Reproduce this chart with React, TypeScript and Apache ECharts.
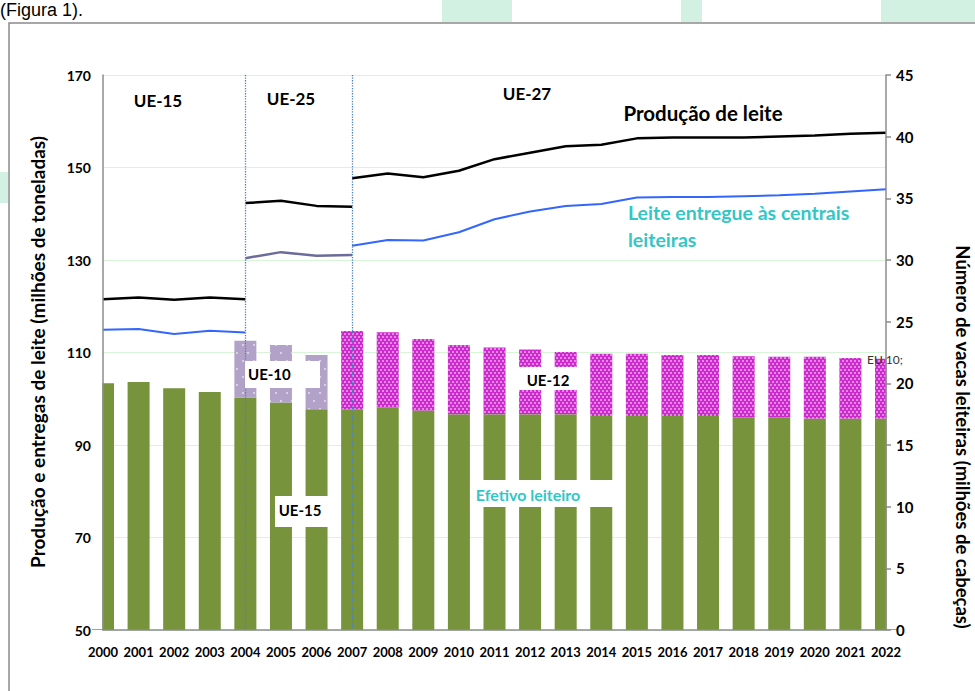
import React, { useEffect, useRef } from 'react';
import * as echarts from 'echarts';

const years = [
  '2000', '2001', '2002', '2003', '2004', '2005', '2006', '2007', '2008', '2009', '2010', '2011',
  '2012', '2013', '2014', '2015', '2016', '2017', '2018', '2019', '2020', '2021', '2022',
];

// Milk production (million tonnes), left axis
const prodUE15 = [121.5, 121.9, 121.4, 121.9, 121.5]; // 2000-2004
const prodUE25 = [142.3, 142.8, 141.7, 141.5]; // 2004-2007
const prodUE27 = [147.7, 148.7, 147.9, 149.3, 151.8, 153.2, 154.6, 154.9, 156.3, 156.5, 156.5, 156.5, 156.7, 156.9, 157.3, 157.5]; // 2007-2022

// Milk delivered to dairies (million tonnes), left axis
const delivUE15 = [114.9, 115.1, 114.0, 114.7, 114.3]; // 2000-2004
const delivUE25 = [130.4, 131.7, 130.9, 131.1]; // 2004-2007
const delivUE27 = [133.1, 134.3, 134.2, 136.0, 138.8, 140.5, 141.7, 142.1, 143.5, 143.6, 143.6, 143.8, 144.0, 144.3, 144.8, 145.3]; // 2007-2022

// Dairy cows (million head), right axis
const cowsUE15 = [20.0, 20.1, 19.6, 19.3, 18.85, 18.45, 17.9, 17.9, 18.05, 17.8, 17.5, 17.5, 17.5, 17.5, 17.35, 17.35, 17.35, 17.35, 17.25, 17.25, 17.15, 17.15, 17.15];
const cowsUE10 = [4.6, 4.65, 4.4]; // 2004-2006
const cowsUE12 = [6.35, 6.1, 5.8, 5.6, 5.4, 5.25, 5.05, 5.05, 5.05, 4.95, 4.95, 4.95, 4.9, 5.0, 4.9, 4.85]; // 2007-2022

// Left axis tick labels
const leftTicks = [50, 70, 90, 110, 130, 150, 170];

const FONT = 'Lato, "Noto Sans", sans-serif';

const W = 975;
const H = 691;
const GRID = { left: 103, right: 89, top: 75, bottom: 61 };

function pad(vals: number[], start: number): (number | string)[] {
  return years.map((_, i) => (i >= start && i < start + vals.length ? vals[i - start] : '-'));
}

export default function App() {
  const ref = useRef<HTMLDivElement>(null);

  useEffect(() => {
    if (!ref.current) return;
    const chart = echarts.init(ref.current, null, { renderer: 'svg' });
    const leftMin = leftTicks[0];
    const leftMax = leftTicks[leftTicks.length - 1];
    const leftStep = leftTicks[1] - leftTicks[0];
    const gx0 = GRID.left;
    const gx1 = W - GRID.right;
    const gy0 = GRID.top;
    const gy1 = H - GRID.bottom;

    const lineBase = {
      type: 'line',
      yAxisIndex: 0,
      symbol: 'none',
      z: 4,
      silent: true,
    };

    const barBase = {
      type: 'bar',
      stack: 'cows',
      yAxisIndex: 1,
      barWidth: 22,
      clip: true,
      z: 2,
      silent: true,
    };

    const option: any = {
      animation: false,
      backgroundColor: '#ffffff',
      grid: { ...GRID, containLabel: false },
      xAxis: {
        type: 'category',
        data: years,
        boundaryGap: false,
        z: 5,
        axisLine: { show: true, lineStyle: { color: '#8c8c8c', width: 1.5 } },
        axisTick: { show: false },
        axisLabel: { interval: 0, fontFamily: FONT, fontWeight: 'bold', fontSize: 13, color: '#000', margin: 15 },
        splitLine: { show: false },
      },
      yAxis: [
        {
          type: 'value',
          show: false,
          min: leftMin,
          max: leftMax,
        },
        {
          type: 'value',
          position: 'right',
          min: 0,
          max: 45,
          interval: 5,
          z: 5,
          axisLine: { show: true, lineStyle: { color: '#8c8c8c', width: 1.5 } },
          axisTick: { show: true, inside: false, length: 5, lineStyle: { color: '#8c8c8c', width: 1.5 } },
          axisLabel: { fontFamily: FONT, fontWeight: 'bold', fontSize: 15, color: '#000', margin: 10 },
          splitLine: { show: false },
        },
        {
          type: 'value',
          position: 'left',
          min: 0,
          max: leftMax - leftMin,
          interval: leftStep,
          z: 0,
          axisLine: { show: false },
          axisTick: { show: false },
          axisLabel: {
            fontFamily: FONT, fontWeight: 'bold', fontSize: 14, color: '#000', margin: 12,
            formatter: (v: number) => String(v + leftMin),
          },
          splitLine: { show: true, lineStyle: { color: '#d8f5d8', width: 1 } },
        },
        {
          type: 'value',
          position: 'left',
          min: 0,
          max: leftMax - leftMin,
          interval: leftStep,
          z: 5,
          axisLine: { show: true, lineStyle: { color: '#8c8c8c', width: 1.5 } },
          axisTick: { show: false },
          axisLabel: { show: false },
          splitLine: { show: false },
        },
      ],
      series: [
        {
          type: 'line',
          yAxisIndex: 0,
          data: years.map(() => '-'),
          symbol: 'none',
          z: 1,
          silent: true,
          markLine: {
            silent: true,
            symbol: 'none',
            label: { show: false },
            lineStyle: { type: 'dotted', color: '#4f81bd', width: 1.3 },
            data: [{ xAxis: '2004' }, { xAxis: '2007' }],
          },
        },
        {
          ...barBase,
          name: 'UE-15',
          data: cowsUE15,
          itemStyle: { color: '#77933c' },
        },
        {
          ...barBase,
          name: 'UE-10',
          data: pad(cowsUE10, 4),
          itemStyle: {
            color: '#b3a2c7',
            decal: {
              symbol: 'circle',
              symbolSize: 0.8,
              color: 'rgba(255,255,255,0.75)',
              dashArrayX: [[2, 9], [0, 5, 2, 4]],
              dashArrayY: [2, 6],
            },
          },
        },
        {
          ...barBase,
          name: 'UE-12',
          data: pad(cowsUE12, 7),
          itemStyle: {
            color: '#cc2acc',
            decal: {
              symbol: 'rect',
              symbolSize: 0.9,
              color: 'rgba(255,230,255,0.55)',
              dashArrayX: [[2, 2], [0, 2, 2, 0]],
              dashArrayY: [2, 1],
            },
          },
        },
        { ...lineBase, data: pad(prodUE15, 0), lineStyle: { color: '#000', width: 2.5 } },
        { ...lineBase, data: pad(prodUE25, 4), lineStyle: { color: '#000', width: 2.5 } },
        { ...lineBase, data: pad(prodUE27, 7), lineStyle: { color: '#000', width: 2.5 } },
        { ...lineBase, data: pad(delivUE15, 0), lineStyle: { color: '#3366ff', width: 2 } },
        { ...lineBase, data: pad(delivUE25, 4), lineStyle: { color: '#6b6b9c', width: 2.5 } },
        { ...lineBase, data: pad(delivUE27, 7), lineStyle: { color: '#3366ff', width: 2 } },
      ],
      graphic: [
        // masks: bars at the first and last category are cut at the plot edges
        { type: 'rect', z: 3, silent: true, shape: { x: gx0 - 11, y: gy0, width: 10.4, height: gy1 - gy0 - 0.8 }, style: { fill: '#fff' } },
        { type: 'rect', z: 3, silent: true, shape: { x: gx1 + 0.6, y: gy0, width: 11, height: gy1 - gy0 - 0.8 }, style: { fill: '#fff' } },
        // page decorations
        { type: 'rect', z: 0, shape: { x: 442, y: 0, width: 70, height: 22 }, style: { fill: '#d2f1e3' } },
        { type: 'rect', z: 0, shape: { x: 681, y: 0, width: 21, height: 22 }, style: { fill: '#d2f1e3' } },
        { type: 'rect', z: 0, shape: { x: 881, y: 0, width: 94, height: 22 }, style: { fill: '#d2f1e3' } },
        { type: 'rect', z: 0, shape: { x: 0, y: 172, width: 8, height: 31 }, style: { fill: '#d2f1e3' } },
        { type: 'rect', z: 0, shape: { x: 9, y: 23, width: 1000, height: 700 }, style: { fill: 'none', stroke: '#8a8a8a', lineWidth: 1.5 } },
        { type: 'text', z: 0, x: 0, y: 1, style: { text: '(Figura 1).', fontSize: 18, fontFamily: '"Liberation Sans", Arial, sans-serif', fill: '#000', verticalAlign: 'top', align: 'left' } },
        // axis titles
        {
          type: 'text', z: 10, x: 37, y: 352, rotation: Math.PI / 2,
          style: { text: 'Produção e entregas de leite (milhões de toneladas)', fontSize: 19, fontWeight: 'bold', fontFamily: FONT, fill: '#000', align: 'center', verticalAlign: 'middle' },
        },
        {
          type: 'text', z: 10, x: 963, y: 437, rotation: -Math.PI / 2,
          style: { text: 'Número de vacas leiteiras (milhões de cabeças)', fontSize: 18.5, fontWeight: 'bold', fontFamily: FONT, fill: '#000', align: 'center', verticalAlign: 'middle' },
        },
        // region labels
        { type: 'text', z: 10, x: 158, y: 100, style: { text: 'UE-15', fontSize: 17, fontWeight: 'bold', fontFamily: FONT, fill: '#000', align: 'center', verticalAlign: 'middle' } },
        { type: 'text', z: 10, x: 291, y: 98, style: { text: 'UE-25', fontSize: 17, fontWeight: 'bold', fontFamily: FONT, fill: '#000', align: 'center', verticalAlign: 'middle' } },
        { type: 'text', z: 10, x: 527, y: 93, style: { text: 'UE-27', fontSize: 17, fontWeight: 'bold', fontFamily: FONT, fill: '#000', align: 'center', verticalAlign: 'middle' } },
        { type: 'text', z: 10, x: 703, y: 113, style: { text: 'Produção de leite', fontSize: 20.5, fontWeight: 'bold', fontFamily: FONT, fill: '#000', align: 'center', verticalAlign: 'middle' } },
        { type: 'text', z: 10, x: 628, y: 212, style: { text: 'Leite entregue às centrais', fontSize: 19.5, fontWeight: 'bold', fontFamily: FONT, fill: '#33c6c6', align: 'left', verticalAlign: 'middle' } },
        { type: 'text', z: 10, x: 628, y: 239, style: { text: 'leiteiras', fontSize: 19.5, fontWeight: 'bold', fontFamily: FONT, fill: '#33c6c6', align: 'left', verticalAlign: 'middle' } },
        // boxed labels on bars
        { type: 'rect', z: 10, shape: { x: 245, y: 361, width: 75, height: 27 }, style: { fill: '#fff' } },
        { type: 'text', z: 11, x: 248, y: 374, style: { text: 'UE-10', fontSize: 15, fontWeight: 'bold', fontFamily: FONT, fill: '#000', align: 'left', verticalAlign: 'middle' } },
        { type: 'rect', z: 10, shape: { x: 515, y: 367, width: 68, height: 23 }, style: { fill: '#fff' } },
        { type: 'text', z: 11, x: 548, y: 380, style: { text: 'UE-12', fontSize: 15, fontWeight: 'bold', fontFamily: FONT, fill: '#000', align: 'center', verticalAlign: 'middle' } },
        { type: 'rect', z: 10, shape: { x: 472, y: 480, width: 144, height: 27 }, style: { fill: '#fff' } },
        { type: 'text', z: 11, x: 528, y: 494, style: { text: 'Efetivo leiteiro', fontSize: 16, fontWeight: 'bold', fontFamily: FONT, fill: '#33c6c6', align: 'center', verticalAlign: 'middle' } },
        { type: 'rect', z: 10, shape: { x: 275, y: 496, width: 53, height: 31 }, style: { fill: '#fff' } },
        { type: 'text', z: 11, x: 300, y: 510, style: { text: 'UE-15', fontSize: 15, fontWeight: 'bold', fontFamily: FONT, fill: '#000', align: 'center', verticalAlign: 'middle' } },
        { type: 'text', z: 11, x: 867, y: 359, style: { text: 'EU 10;', fontSize: 12, fontFamily: FONT, fill: '#333', align: 'left', verticalAlign: 'middle' } },
      ],
    };

    chart.setOption(option);
    return () => chart.dispose();
  }, []);

  return (
    <div
      ref={ref}
      style={{ position: 'fixed', left: 0, top: 0, width: W, height: H, background: '#fff' }}
    />
  );
}
